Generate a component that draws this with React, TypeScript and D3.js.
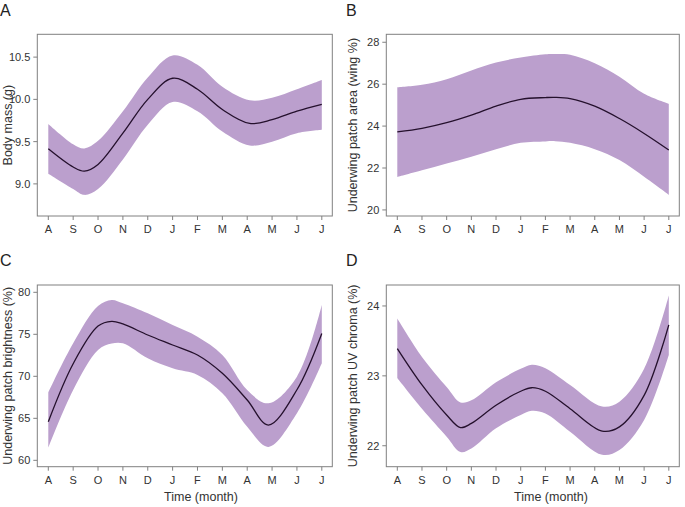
import React from "react";
import * as d3 from "d3";

const months = ["A", "S", "O", "N", "D", "J", "F", "M", "A", "M", "J", "J"];

// x positions in month index (0 = August ... 11 = July)
const massX = [0, 1, 1.45, 2, 3, 4, 5, 6, 7, 8.1, 9, 10, 11];
const massMean = [9.416, 9.2, 9.15, 9.23, 9.6, 10.0, 10.25, 10.12, 9.88, 9.715, 9.76, 9.86, 9.94];
const massUpper = [9.71, 9.47, 9.42, 9.51, 9.86, 10.26, 10.52, 10.41, 10.15, 9.99, 10.02, 10.12, 10.23];
const massLower = [9.12, 8.94, 8.87, 8.94, 9.29, 9.7, 9.97, 9.86, 9.62, 9.455, 9.5, 9.6, 9.64];

const areaX = [0, 1, 2, 3, 4, 5, 6, 6.4, 7, 8, 9, 10, 11];
const areaMean = [23.72, 23.89, 24.16, 24.52, 24.95, 25.28, 25.36, 25.37, 25.31, 24.95, 24.36, 23.65, 22.86];
const areaUpper = [25.85, 25.97, 26.24, 26.65, 27.03, 27.27, 27.43, 27.44, 27.4, 27.0, 26.36, 25.54, 25.06];
const areaLower = [21.57, 21.89, 22.22, 22.54, 22.89, 23.2, 23.27, 23.28, 23.2, 22.9, 22.38, 21.58, 20.72];

const brightX = [0, 1, 2, 2.55, 3, 4, 5, 6, 7, 8, 8.85, 10, 11];
const brightMean = [64.6, 71.5, 75.98, 76.55, 76.23, 74.92, 73.73, 72.54, 70.36, 67.18, 64.2, 68.4, 75.1];
const brightUpper = [68.06, 73.93, 78.37, 79.09, 78.69, 77.5, 76.11, 74.72, 72.54, 68.37, 66.79, 69.96, 78.5];
const brightLower = [61.5, 68.37, 73.13, 73.9, 73.93, 72.14, 70.95, 70.16, 67.98, 64.0, 61.6, 65.6, 71.55];

const chromaX = [0, 1, 2, 2.56, 3, 4, 5, 5.45, 6, 7, 8.3, 9, 10, 11];
const chromaMean = [23.39, 22.87, 22.44, 22.26, 22.32, 22.58, 22.78, 22.83, 22.78, 22.53, 22.21, 22.27, 22.72, 23.73];
const chromaUpper = [23.82, 23.27, 22.84, 22.62, 22.65, 22.91, 23.1, 23.16, 23.11, 22.87, 22.56, 22.63, 23.1, 24.15];
const chromaLower = [22.97, 22.53, 22.13, 21.91, 21.96, 22.25, 22.44, 22.5, 22.46, 22.2, 21.87, 21.94, 22.37, 23.3];

const massTicks = [9.0, 9.5, 10.0, 10.5];
const areaTicks = [20, 22, 24, 26, 28];
const brightTicks = [60, 65, 70, 75, 80];
const chromaTicks = [22, 23, 24];

const FONT = "'Liberation Sans', Arial, Helvetica, sans-serif";
const AXIS = "#808080";
const TEXT = "#333333";
const BAND = "#bb9fcd";
const LINE = "#24102c";

type PanelProps = {
  label: string;
  left: number;
  right: number;
  top: number;
  bottom: number;
  yDomain: [number, number];
  ticks: number[];
  tickFmt: (v: number) => string;
  yTitle: string;
  yTitleX: number;
  showXTitle: boolean;
  xTitleX: number;
  labelX: number;
  labelY: number;
  xs: number[];
  mean: number[];
  upper: number[];
  lower: number[];
};

function Panel(p: PanelProps) {
  const x = d3.scaleLinear().domain([0, 11]).range([p.left + 11, p.right - 10.5]);
  const y = d3.scaleLinear().domain(p.yDomain).range([p.bottom, p.top]);
  const idx = p.xs.map((_, i) => i);
  const curve = d3.curveCatmullRom.alpha(0.5);
  const areaGen = d3
    .area<number>()
    .x((i) => x(p.xs[i]))
    .y0((i) => y(p.lower[i]))
    .y1((i) => y(p.upper[i]))
    .curve(curve);
  const lineGen = d3
    .line<number>()
    .x((i) => x(p.xs[i]))
    .y((i) => y(p.mean[i]))
    .curve(curve);
  const cy = (p.top + p.bottom) / 2;
  return (
    <g>
      <text x={p.labelX} y={p.labelY} fontSize={16} fill="#222" fontFamily={FONT}>
        {p.label}
      </text>
      <path d={areaGen(idx) || ""} fill={BAND} stroke="none" />
      <path d={lineGen(idx) || ""} fill="none" stroke={LINE} strokeWidth={1.3} />
      <rect
        x={p.left}
        y={p.top}
        width={p.right - p.left}
        height={p.bottom - p.top}
        fill="none"
        stroke={AXIS}
        strokeWidth={1}
      />
      {p.ticks.map((t) => (
        <g key={"y" + t}>
          <line x1={p.left - 4} x2={p.left} y1={y(t)} y2={y(t)} stroke={AXIS} />
          <text
            x={p.left - 7}
            y={y(t)}
            dy="0.36em"
            textAnchor="end"
            fontSize={11}
            fill={TEXT}
            fontFamily={FONT}
          >
            {p.tickFmt(t)}
          </text>
        </g>
      ))}
      {months.map((m, i) => (
        <g key={"x" + i}>
          <line x1={x(i)} x2={x(i)} y1={p.bottom} y2={p.bottom + 4} stroke={AXIS} />
          <text
            x={x(i)}
            y={p.bottom + 17}
            textAnchor="middle"
            fontSize={11}
            fill={TEXT}
            fontFamily={FONT}
          >
            {m}
          </text>
        </g>
      ))}
      <text
        transform={`translate(${p.yTitleX},${cy}) rotate(-90)`}
        textAnchor="middle"
        fontSize={12.5}
        fill={TEXT}
        fontFamily={FONT}
      >
        {p.yTitle}
      </text>
      {p.showXTitle && (
        <text
          x={p.xTitleX}
          y={p.bottom + 34}
          textAnchor="middle"
          fontSize={12.5}
          fill={TEXT}
          fontFamily={FONT}
        >
          Time (month)
        </text>
      )}
    </g>
  );
}

export default function App() {
  const f1 = (v: number) => d3.format(".1f")(v);
  const f0 = (v: number) => d3.format("d")(v);
  return (
    <svg
      width={685}
      height={507}
      style={{ position: "absolute", left: 0, top: 0, background: "#fff" }}
    >
      <rect width={685} height={507} fill="#fff" />
      <Panel
        label="A"
        left={37.3}
        right={332.3}
        top={34.3}
        bottom={216}
        yDomain={[8.62, 10.77]}
        ticks={massTicks}
        tickFmt={f1}
        yTitle="Body mass (g)"
        yTitleX={11.5}
        showXTitle={false}
        xTitleX={200}
        labelX={0}
        labelY={16}
        xs={massX}
        mean={massMean}
        upper={massUpper}
        lower={massLower}
      />
      <Panel
        label="B"
        left={386.3}
        right={679.3}
        top={34.3}
        bottom={216}
        yDomain={[19.71, 28.38]}
        ticks={areaTicks}
        tickFmt={f0}
        yTitle="Underwing patch area (wing %)"
        yTitleX={357}
        showXTitle={false}
        xTitleX={550}
        labelX={346}
        labelY={16}
        xs={areaX}
        mean={areaMean}
        upper={areaUpper}
        lower={areaLower}
      />
      <Panel
        label="C"
        left={37.3}
        right={332.3}
        top={285}
        bottom={466.7}
        yDomain={[59.24, 80.87]}
        ticks={brightTicks}
        tickFmt={f0}
        yTitle="Underwing patch brightness (%)"
        yTitleX={11.5}
        showXTitle={true}
        xTitleX={201}
        labelX={0}
        labelY={266}
        xs={brightX}
        mean={brightMean}
        upper={brightUpper}
        lower={brightLower}
      />
      <Panel
        label="D"
        left={386.3}
        right={679.3}
        top={285}
        bottom={466.7}
        yDomain={[21.7, 24.3]}
        ticks={chromaTicks}
        tickFmt={f0}
        yTitle="Underwing patch UV chroma (%)"
        yTitleX={357}
        showXTitle={true}
        xTitleX={551}
        labelX={346}
        labelY={266}
        xs={chromaX}
        mean={chromaMean}
        upper={chromaUpper}
        lower={chromaLower}
      />
    </svg>
  );
}
